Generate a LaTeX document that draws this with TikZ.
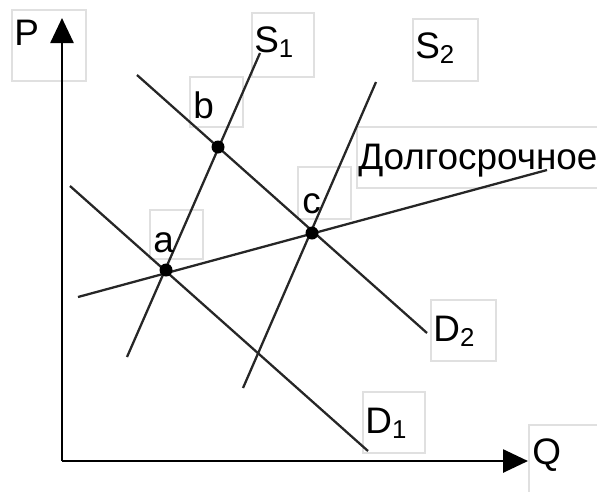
\documentclass[tikz,border=0pt]{standalone}
\usepackage{fontspec}
\setmainfont{Liberation Sans}
\usetikzlibrary{arrows.meta}
\begin{document}
\begin{tikzpicture}[x=0.02cm, y=-0.02cm, >={Triangle[length=0.5cm,width=0.46cm]},
  curve/.style={line width=1.3pt, draw=black!85},
  lbl/.style={anchor=base west, inner sep=0pt, font=\fontsize{21}{25}\selectfont},
  frame/.style={draw=black!12, line width=0.6pt},
  dot/.style={circle, fill=black, inner sep=0pt, minimum size=0.26cm}]
\useasboundingbox (0,0) rectangle (597,491);
% frames round the labels
\draw[frame](12,10) rectangle (86,81);
\draw[frame](252,13) rectangle (314,77);
\draw[frame](413,19) rectangle (478,81);
\draw[frame](190,77) rectangle (243,127);
\draw[frame](357,127) rectangle (600,188);
\draw[frame](298,167) rectangle (351,219);
\draw[frame](150,210) rectangle (203,259);
\draw[frame](431,300) rectangle (496,361);
\draw[frame](363,392) rectangle (425,453);
\draw[frame](529,425) rectangle (600,495);
% axes
\coordinate (O) at (62,461);
\coordinate (ytop) at (62,18);
\coordinate (xend) at (528,461);
\draw[->, line width=1.5pt](O)--(ytop);
\draw[->, line width=1.5pt](O)--(xend);
% supply, demand, long run
\coordinate (s1lo) at (127,357); \coordinate (s1hi) at (260,53);
\coordinate (s2lo) at (243,388); \coordinate (s2hi) at (376,82);
\coordinate (d1hi) at (70,186);  \coordinate (d1lo) at (368,451);
\coordinate (d2hi) at (137,75);  \coordinate (d2lo) at (427,333);
\coordinate (lrlo) at (78,297);  \coordinate (lrhi) at (547,170);
\draw[curve](s1lo)--(s1hi);
\draw[curve](s2lo)--(s2hi);
\draw[curve](d1hi)--(d1lo);
\draw[curve](d2hi)--(d2lo);
\draw[curve](lrlo)--(lrhi);
% equilibria
\node[dot](pa) at (166,270){};
\node[dot](pb) at (218,147){};
\node[dot](pc) at (312,233){};
% labels
\node[lbl](lp) at (14,45){P};
\node[lbl](lq) at (532,464){Q};
\node[lbl](ls1) at (254,52){S\textsubscript{1}};
\node[lbl](ls2) at (415,58){S\textsubscript{2}};
\node[lbl](ld1) at (365,433){D\textsubscript{1}};
\node[lbl](ld2) at (433,341){D\textsubscript{2}};
\node[lbl](la) at (153,252){a};
\node[lbl](lb) at (193,118){b};
\node[lbl](lc) at (302,213){c};
\node[lbl](llr) at (358,169){Долгосрочное};
\end{tikzpicture}
\end{document}
